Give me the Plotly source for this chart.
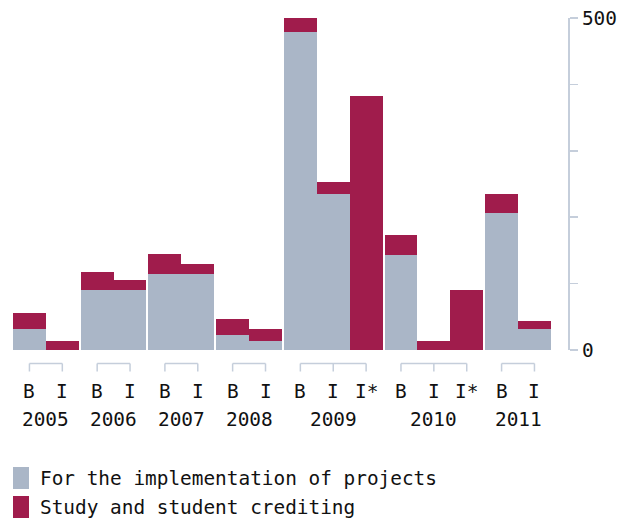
import plotly.graph_objects as go

# ---- data ----
years = ["2005", "2006", "2007", "2008", "2009", "2010", "2011"]
year_categories = [
    ["B", "I"],
    ["B", "I"],
    ["B", "I"],
    ["B", "I"],
    ["B", "I", "I*"],
    ["B", "I", "I*"],
    ["B", "I"],
]
implementation = [31, 0, 91, 91, 115, 115, 23, 14, 479, 235, 0, 143, 0, 0, 206, 32]
study = [24, 14, 26, 14, 30, 15, 23, 17, 29, 18, 383, 30, 13, 90, 29, 12]
series_names = ["For the implementation of projects", "Study and student crediting"]
y_tick_values = [0, 100, 200, 300, 400, 500]
y_tick_labels = ["0", "", "", "", "", "500"]

# ---- styling ----
GREY = "#aab6c7"
RED = "#a01c4c"
AXIS = "#c5cedb"
FONT = "DejaVu Sans Mono"
FS = 19.4
GAP = 0.06  # gap between year groups (in bar widths)

# positions of bars (bar width = 1, small gap between years)
positions = []
cat_labels = []
groups = []
idx = 0
for yi, cats in enumerate(year_categories):
    g = []
    for c in cats:
        p = idx + GAP * yi
        positions.append(p)
        cat_labels.append(c)
        g.append(p)
        idx += 1
    groups.append(g)

fig = go.Figure()
fig.add_trace(go.Bar(x=positions, y=implementation, width=1, name=series_names[0],
                     marker=dict(color=GREY, line=dict(width=0)), showlegend=False))
fig.add_trace(go.Bar(x=positions, y=study, width=1, name=series_names[1],
                     marker=dict(color=RED, line=dict(width=0)), showlegend=False))

shapes = []
annotations = []
for yi, g in enumerate(groups):
    # bracket
    shapes.append(dict(type="line", xref="x", yref="paper", ysizemode="pixel", yanchor=0,
                       x0=g[0], x1=g[-1], y0=-13.5, y1=-13.5,
                       line=dict(color=AXIS, width=1.5)))
    for p in g:
        shapes.append(dict(type="line", xref="x", yref="paper", ysizemode="pixel", yanchor=0,
                           x0=p, x1=p, y0=-13.5, y1=-21.5,
                           line=dict(color=AXIS, width=1.5)))
    annotations.append(dict(x=sum(g) / len(g), y=0, xref="x", yref="paper",
                            yshift=-69, text=years[yi], showarrow=False,
                            xanchor="center", yanchor="middle",
                            font=dict(family=FONT, size=FS, color="#111")))

for p, c in zip(positions, cat_labels):
    annotations.append(dict(x=p, y=0, xref="x", yref="paper", yshift=-41,
                            text=c, showarrow=False, xanchor="center", yanchor="middle",
                            font=dict(family=FONT, size=FS, color="#111")))

# custom legend
for i, (name, col) in enumerate(zip(series_names, [GREY, RED])):
    top = -117 - 29 * i
    shapes.append(dict(type="rect", xref="paper", yref="paper",
                       xsizemode="pixel", xanchor=0, ysizemode="pixel", yanchor=0,
                       x0=0, x1=16, y0=top, y1=top - 22,
                       fillcolor=col, line=dict(width=0)))
    annotations.append(dict(x=0, y=0, xref="paper", yref="paper", xshift=25,
                            yshift=top - 11, text=name, showarrow=False,
                            xanchor="left", yanchor="middle",
                            font=dict(family=FONT, size=FS, color="#111")))

fig.update_layout(
    width=619, height=518,
    margin=dict(l=13, r=51, t=18, b=168, autoexpand=False),
    barmode="stack",
    bargap=0,
    plot_bgcolor="white",
    paper_bgcolor="white",
    showlegend=False,
    hovermode=False,
    shapes=shapes,
    annotations=annotations,
    font=dict(family=FONT, size=FS, color="#111"),
    xaxis=dict(range=[-0.5, positions[-1] + 0.5 + 0.52], showticklabels=False,
               showgrid=False, zeroline=False, showline=False, ticks="",
               automargin=False),
    yaxis=dict(range=[0, 500], side="right", showgrid=False, zeroline=False,
               showline=True, linecolor=AXIS, linewidth=2,
               ticks="outside", ticklen=8, tickcolor=AXIS, tickwidth=1.5,
               tickvals=y_tick_values, ticktext=y_tick_labels,
               ticklabelstandoff=0, ticklabeloverflow="allow", automargin=False,
               tickfont=dict(family=FONT, size=FS, color="#111")),
)

# remove the page's default 8px body margin so the figure fills the window
fig.write_html("out.html",
               config={"displayModeBar": False, "staticPlot": True},
               post_script="document.body.style.margin='0';document.body.style.overflow='hidden';")
